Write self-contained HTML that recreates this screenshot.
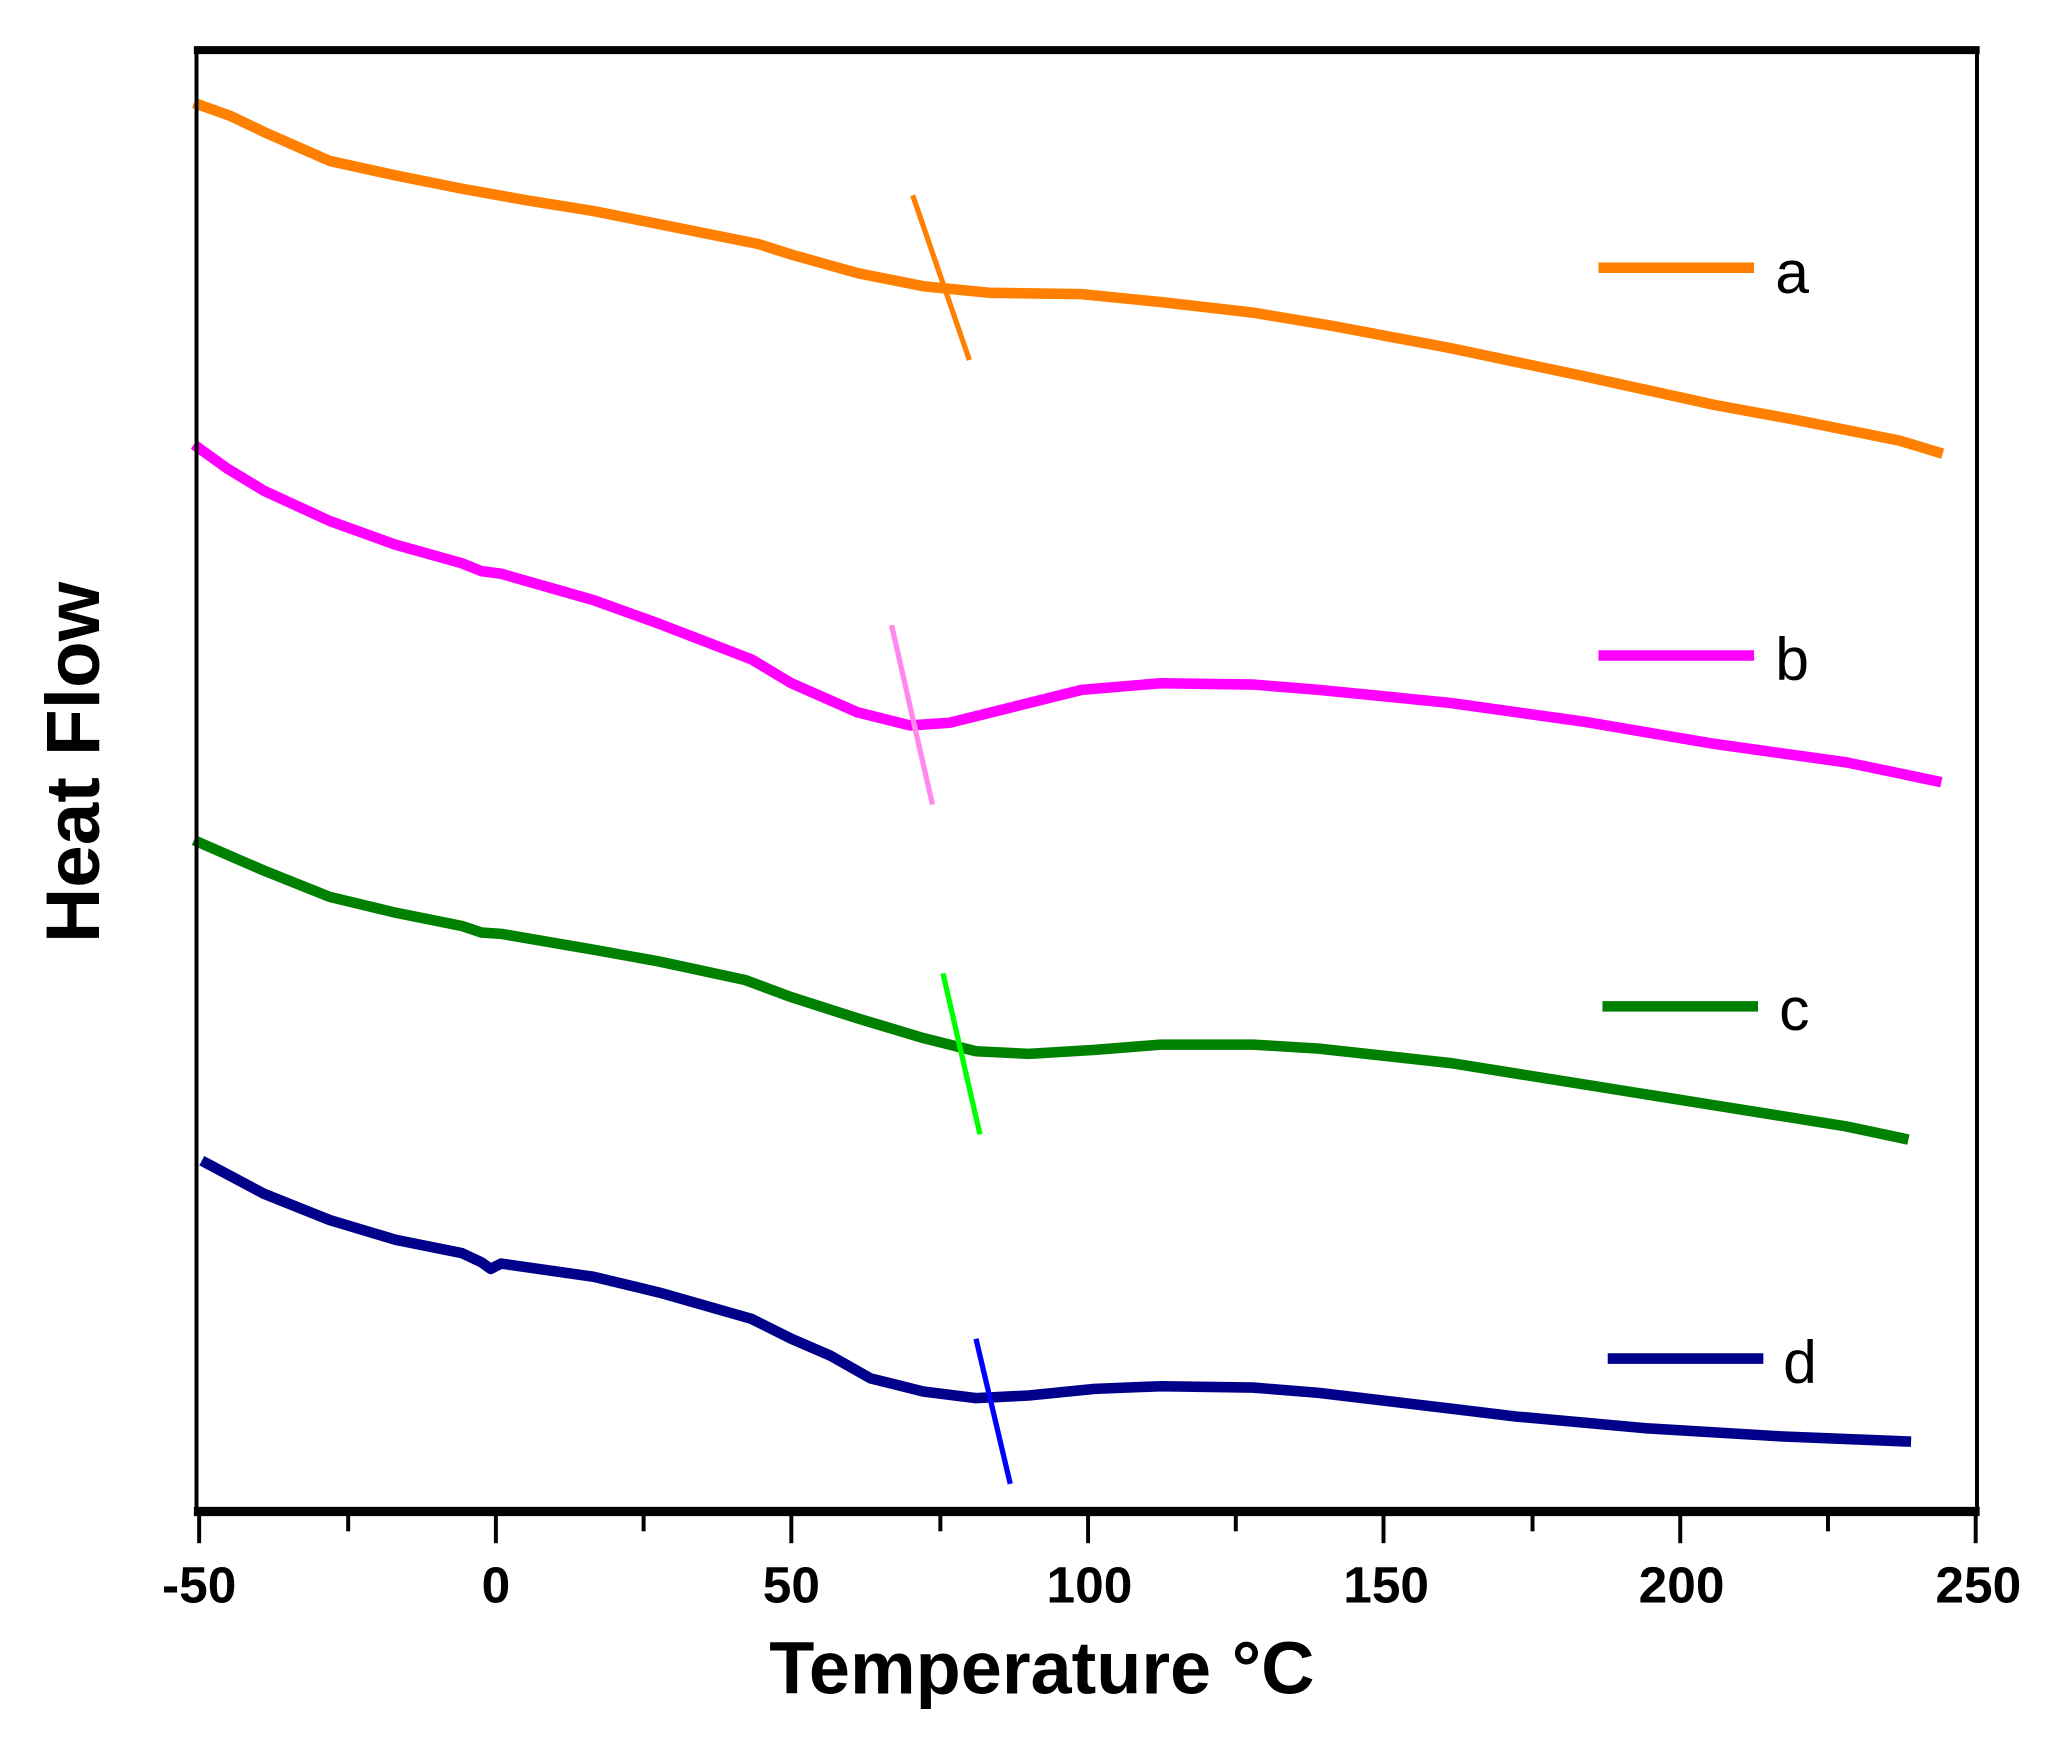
<!DOCTYPE html>
<html><head><meta charset="utf-8"><style>html,body{margin:0;padding:0;background:#fff}svg{display:block}</style></head>
<body>
<svg width="2068" height="1745" viewBox="0 0 1568 1323" preserveAspectRatio="none" xmlns="http://www.w3.org/2000/svg" font-family="Liberation Sans, sans-serif" font-weight="bold">
<rect width="1568" height="1323" fill="#fff"/>
<g fill="none" stroke-linejoin="round" stroke-linecap="butt">
<polyline stroke="#ff8000" stroke-width="8" points="147,78 175,88 200,100 225,111 250,122 300,133 350,143 400,152 450,160 500,170 575,185 600,193 650,207 700,217 750,222 820,223 880,229 950,237 1010,247 1100,264 1200,285 1300,307 1360,318 1440,334 1473,344"/>
<line stroke="#ff8000" stroke-width="4" x1="692" y1="148" x2="735" y2="273"/>
<polyline stroke="#ff00ff" stroke-width="8" points="147,337 172,355 200,372 250,395 300,413 350,427 365,433 380,435 450,455 500,473 570,500 600,518 650,540 690,550 720,548 760,538 820,523 880,518 950,519 1000,523 1100,533 1200,547 1300,564 1400,578 1472,593"/>
<line stroke="#ff88ee" stroke-width="4" x1="676" y1="474" x2="707" y2="610"/>
<polyline stroke="#008000" stroke-width="8" points="147,637 200,660 250,680 300,692 350,702 365,707 380,708 450,720 500,729 565,743 600,756 650,772 700,787 740,797 780,799 830,796 880,792 950,792 1000,795 1100,806 1200,822 1300,838 1400,854 1447,864"/>
<line stroke="#00ff00" stroke-width="4" x1="715" y1="738" x2="743" y2="860"/>
<polyline stroke="#00008b" stroke-width="8" points="153,880 200,905 250,925 300,940 350,950 365,957 372,962 380,958 450,968 500,980 570,1000 600,1015 630,1028 660,1045 700,1055 740,1060 780,1058 830,1053 880,1051 950,1052 1000,1056 1100,1068 1150,1074 1250,1083 1350,1089 1449,1093"/>
<line stroke="#0000ff" stroke-width="4" x1="740" y1="1015" x2="766" y2="1125"/>
<line stroke="#ff8000" stroke-width="8" x1="1212" y1="203" x2="1330" y2="203"/>
<line stroke="#ff00ff" stroke-width="8" x1="1212" y1="497" x2="1330" y2="497"/>
<line stroke="#008000" stroke-width="8" x1="1215" y1="763" x2="1333" y2="763"/>
<line stroke="#00008b" stroke-width="8" x1="1219" y1="1030" x2="1337" y2="1030"/>
</g>
<g font-weight="normal" font-size="46" fill="#000">
<text x="1346" y="222">a</text>
<text x="1346" y="515">b</text>
<text x="1349" y="781">c</text>
<text x="1352" y="1048">d</text>
</g>
<g stroke="#000" fill="none">
<line x1="149" y1="36" x2="149" y2="1149" stroke-width="3"/>
<line x1="1499" y1="36" x2="1499" y2="1149" stroke-width="3"/>
<line x1="147" y1="38" x2="1501" y2="38" stroke-width="6"/>
<line x1="147" y1="1146" x2="1501" y2="1146" stroke-width="7"/>
<g stroke-width="3">
<line x1="151" y1="1146" x2="151" y2="1170"/><line x1="376" y1="1146" x2="376" y2="1170"/><line x1="600" y1="1146" x2="600" y2="1170"/><line x1="825" y1="1146" x2="825" y2="1170"/><line x1="1049" y1="1146" x2="1049" y2="1170"/><line x1="1274" y1="1146" x2="1274" y2="1170"/><line x1="1498" y1="1146" x2="1498" y2="1170"/>
<line x1="264" y1="1146" x2="264" y2="1161"/><line x1="488" y1="1146" x2="488" y2="1161"/><line x1="713" y1="1146" x2="713" y2="1161"/><line x1="937" y1="1146" x2="937" y2="1161"/><line x1="1162" y1="1146" x2="1162" y2="1161"/><line x1="1386" y1="1146" x2="1386" y2="1161"/>
</g>
</g>
<g font-size="39" text-anchor="middle" fill="#000">
<text x="151" y="1215">-50</text><text x="376" y="1215">0</text><text x="600" y="1215">50</text><text x="826" y="1215">100</text><text x="1051" y="1215">150</text><text x="1275" y="1215">200</text><text x="1500" y="1215">250</text>
</g>
<text x="790" y="1284" font-size="56" text-anchor="middle">Temperature °C</text>
<text transform="translate(75,578) rotate(-90)" font-size="58" text-anchor="middle">Heat Flow</text>
</svg>
</body></html>
